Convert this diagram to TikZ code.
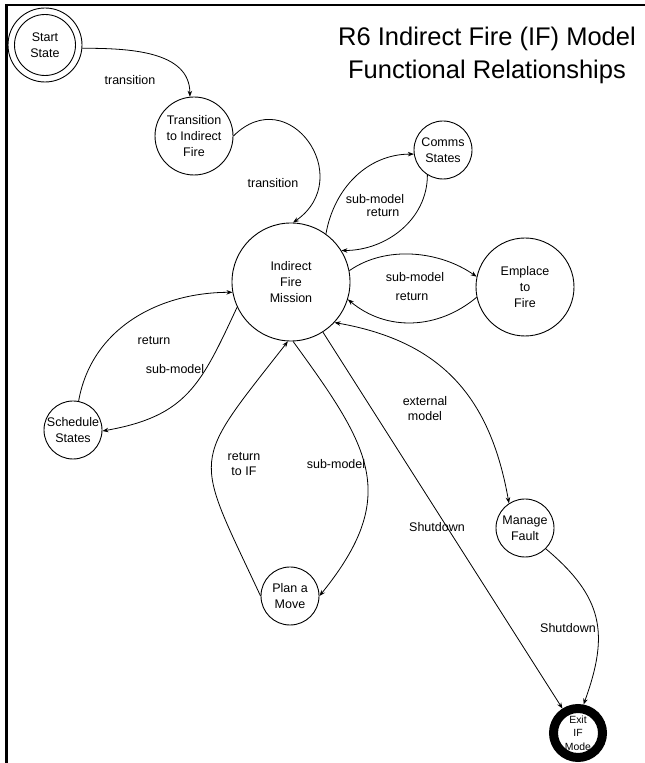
\documentclass[tikz,border=0pt]{standalone}
\usepackage{fontspec}
\setmainfont{Liberation Sans}
\usetikzlibrary{arrows.meta}
\begin{document}
\begin{tikzpicture}[x=1pt,y=1pt,
  st/.style={circle,draw,line width=0.9pt,inner sep=0pt,align=center,font=\fontsize{12.5}{16}\selectfont},
  lab/.style={font=\fontsize{12.5}{15}\selectfont,align=center,inner sep=0pt},
  conn/.style={line width=0.8pt,-{Stealth[length=6pt,width=4.5pt]}},
  dconn/.style={line width=0.8pt,{Stealth[length=6pt,width=4.5pt]}-{Stealth[length=6pt,width=4.5pt]}}]
\useasboundingbox (0,0) rectangle (645,763);
\draw[line width=2.2pt] (6.5,0) -- (6.5,758) -- (645,758);
% title
\node[font=\fontsize{25.5}{33}\selectfont,align=center] (title) at (487,707.5) {R6 Indirect Fire (IF) Model\\Functional Relationships};
% states
\node[st,minimum size=74pt] (start) at (45,718) {Start\\State};
\draw[line width=0.9pt] (start.center) circle[radius=30.5];
\node[st,minimum size=78pt] (trans) at (194,627) {Transition\\to Indirect\\Fire};
\node[st,minimum size=118pt] (ifm) at (291,481) {Indirect\\Fire\\Mission};
\node[st,minimum size=58pt] (comms) at (443,613) {Comms\\States};
\node[st,minimum size=98pt] (emp) at (525,476) {Emplace\\to\\Fire};
\node[st,minimum size=58pt] (sched) at (73,333) {Schedule\\States};
\node[st,minimum size=58pt] (plan) at (290,167) {Plan a\\Move};
\node[st,minimum size=58pt] (fault) at (525,235) {Manage\\Fault};
\node[st,minimum size=49pt,line width=9pt,font=\fontsize{10.4}{13.5}\selectfont] (exit) at (578,30) {Exit\\IF\\Mode};
% connectors
\draw[conn] (start.-5) to[out=0,in=90] (trans.96);
\draw[conn] (trans.0) to[out=45,in=35,looseness=1.9] (ifm.88);
\draw[conn] (ifm.54) to[out=80,in=180] (comms.188);
\draw[conn] (comms.238) to[out=270,in=0] (ifm.32);
\draw[conn] (ifm.11) to[out=35,in=145,looseness=0.9] (emp.168);
\draw[conn] (emp.192) to[out=220,in=320] (ifm.343);
\draw[dconn] (ifm.-43) to[out=-10,in=100,looseness=1.1] (fault.123);
\draw[conn] (ifm.205) to[out=245,in=10,looseness=1.2] (sched.-2);
\draw[conn] (sched.79) to[out=80,in=180] (ifm.190);
\draw[conn] (ifm.-88) to[out=-54,in=51,looseness=1.3] (plan.0);
\draw[conn] (plan.180) to[out=115,in=232,looseness=1.6] (ifm.-93);
\draw[conn] (ifm) -- (exit);
\draw[conn] (fault.-45) to[out=-40,in=70,looseness=1.2] (exit.79);
% labels
\node[lab] (l1) at (130,683) {transition};
\node[lab] (l2) at (273,580) {transition};
\node[lab] (l3) at (375,564) {sub-model};
\node[lab] (l4) at (383,550) {return};
\node[lab] (l5) at (415,486) {sub-model};
\node[lab] (l6) at (412,466) {return};
\node[lab] (l7) at (425,354.5) {external\\model};
\node[lab] (l8) at (154,422) {return};
\node[lab] (l9) at (175,394) {sub-model};
\node[lab] (l10) at (244,298.5) {return\\to IF};
\node[lab] (l11) at (336,299) {sub-model};
\node[lab] (l12) at (437,236) {Shutdown};
\node[lab] (l13) at (568,135) {Shutdown};
\end{tikzpicture}
\end{document}
